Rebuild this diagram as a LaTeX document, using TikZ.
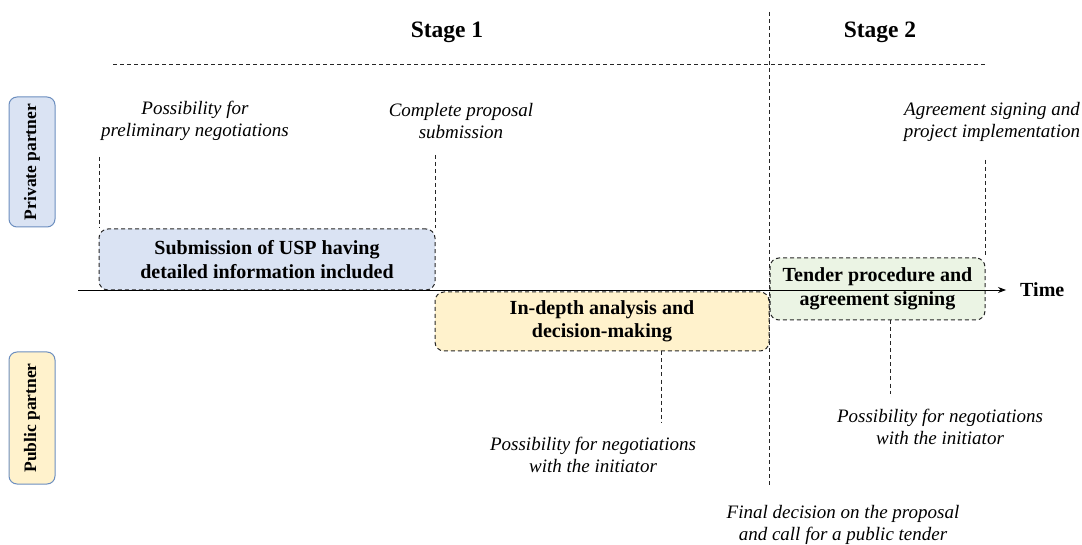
\documentclass[tikz,border=0pt]{standalone}
\usepackage{fontspec}
\setmainfont{Liberation Serif}
\usetikzlibrary{arrows.meta}
\definecolor{privfill}{HTML}{DAE3F3}
\definecolor{pubfill}{HTML}{FFF2CC}
\definecolor{grnfill}{HTML}{EBF4E4}
\definecolor{sideedge}{HTML}{6C8EBF}
\tikzset{
  guide/.style={draw=black!85, dashed, dash pattern=on 4pt off 3pt, line width=0.8pt},
  phasebox/.style={draw=black!85, dashed, dash pattern=on 4pt off 3pt, line width=1pt, rounded corners=9pt, align=center, font=\fontsize{20}{23.5}\selectfont\bfseries},
  sidebox/.style={draw=sideedge, line width=1pt, rounded corners=8pt, minimum width=130pt, minimum height=46pt, rotate=90, font=\fontsize{17.5}{21}\selectfont\bfseries, inner sep=0pt},
  note/.style={align=center, font=\fontsize{19}{22}\selectfont\itshape, inner sep=0pt},
  stage/.style={font=\fontsize{23.5}{26}\selectfont\bfseries, inner sep=0pt},
}
\begin{document}
\begin{tikzpicture}[x=1pt,y=-1pt]
\useasboundingbox (0,0) rectangle (1082,545);
% stage titles and separators
\node[stage] (s1) at (447,32) {Stage 1};
\node[stage] (s2) at (880,32) {Stage 2};
\coordinate (hl) at (113,64);
\coordinate (hr) at (985,64);
\draw[guide] (hl) -- (hr);
\coordinate (vt) at (769,12);
\coordinate (vb) at (769,487);
% side labels
\node[sidebox, fill=privfill] (priv) at (32,162) {Private partner};
\node[sidebox, fill=pubfill, minimum width=132pt] (pub) at (32,418) {Public partner};
% phase boxes
\node[phasebox, fill=privfill, minimum width=336pt, minimum height=61pt] (b1) at (267,259.5) {Submission of USP having\\detailed information included};
\node[phasebox, fill=pubfill, minimum width=334pt, minimum height=59pt] (b2) at (602,321.5) {In-depth analysis and\\decision-making};
\node[phasebox, fill=grnfill, minimum width=215pt, minimum height=62pt] (b3) at (877.5,289) {Tender procedure and\\agreement signing};
% axis
\coordinate (ax0) at (78,290);
\coordinate (ax1) at (1006,290);
\draw[line width=0.9pt, -{Stealth[length=8pt,width=6pt]}] (ax0) -- (ax1);
\node[font=\fontsize{20}{23}\selectfont\bfseries, anchor=west, inner sep=0pt] (time) at (1020,290) {Time};
\draw[guide] (vt) -- (vb);
% notes
\node[note] (n1) at (195,121) {Possibility for\\preliminary negotiations};
\node[note] (n2) at (461,121) {Complete proposal\\submission};
\node[note] (n3) at (992,122) {Agreement signing and\\project implementation};
\node[note] (n4) at (593,455) {Possibility for negotiations\\with the initiator};
\node[note] (n5) at (940,427) {Possibility for negotiations\\with the initiator};
\node[note] (n6) at (843,525) {Final decision on the proposal\\and call for a public tender};
% guide lines
\coordinate (g1) at (99,157);
\coordinate (g2) at (435,155);
\coordinate (g3) at (985,160);
\coordinate (g4) at (661,423);
\coordinate (g5) at (890,394);
\draw[guide] (g1) -- (b1.north west -| g1);
\draw[guide] (g2) -- (b1.north east -| g2);
\draw[guide] (g3) -- (b3.north east -| g3);
\draw[guide] (b2.south -| g4) -- (g4);
\draw[guide] (b3.south -| g5) -- (g5);
\end{tikzpicture}
\end{document}
